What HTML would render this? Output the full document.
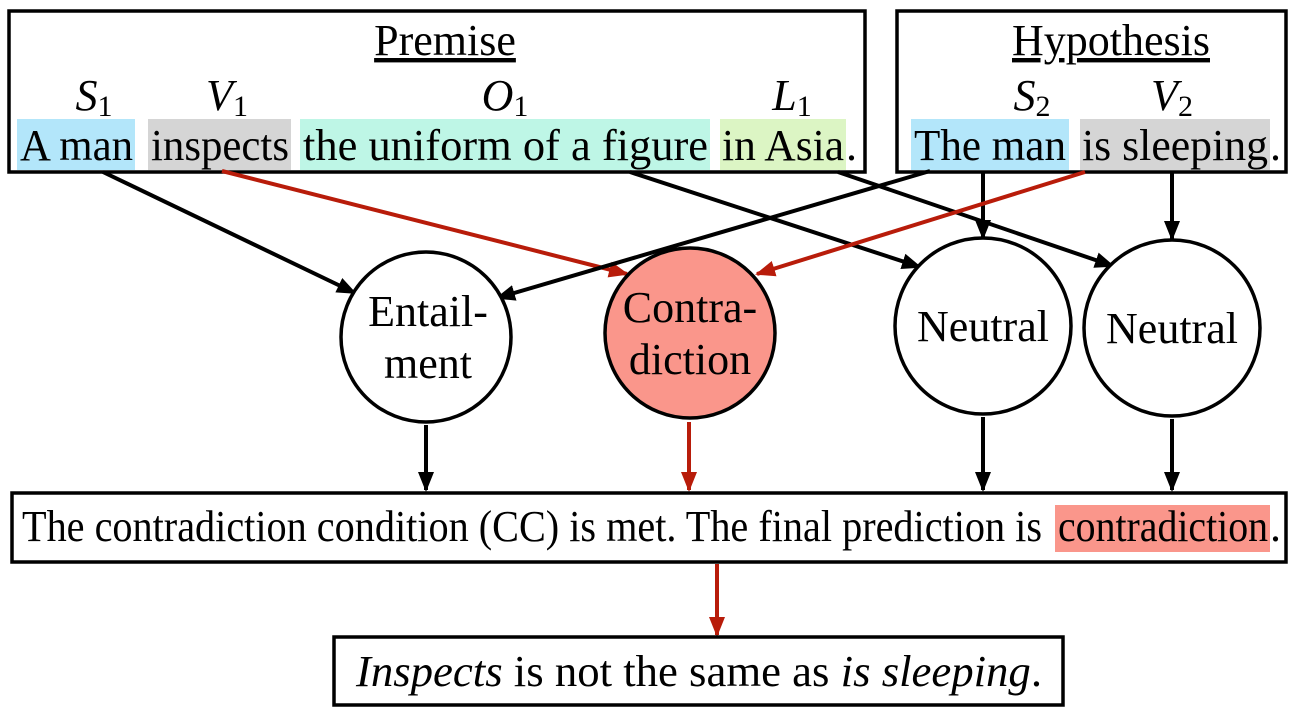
<!DOCTYPE html>
<html><head><meta charset="utf-8"><style>
body{margin:0;background:#fff}
svg{display:block;font-family:"Liberation Serif",serif}
</style></head><body>
<svg width="1296" height="712" viewBox="0 0 1296 712">
<defs>
<marker id="ab" markerWidth="20" markerHeight="20" refX="18" refY="10" orient="auto" markerUnits="userSpaceOnUse" viewBox="0 0 20 20"><path d="M0,2 L20,10 L0,18 z" fill="#000"/></marker>
<marker id="ar" markerWidth="20" markerHeight="20" refX="18" refY="10" orient="auto" markerUnits="userSpaceOnUse" viewBox="0 0 20 20"><path d="M0,2 L20,10 L0,18 z" fill="#b81c0a"/></marker>
</defs>
<style>
.b{stroke:#000;stroke-width:3.5;fill:none}
.ln{stroke:#000;stroke-width:4;marker-end:url(#ab);}
.lr{stroke:#b81c0a;stroke-width:4;marker-end:url(#ar);}
.t{font-size:44px}
.lab{font-size:44px;font-style:italic}
.sub{font-size:30px;font-style:normal}
</style>
<g>
<rect x="9" y="11" width="856" height="161" class="b"/>
<text x="445" y="55" text-anchor="middle" class="t" text-decoration="underline">Premise</text>
<text x="94" y="110" text-anchor="middle" class="lab">S<tspan class="sub" dy="6">1</tspan></text>
<text x="227" y="110" text-anchor="middle" class="lab">V<tspan class="sub" dy="6">1</tspan></text>
<text x="505" y="110" text-anchor="middle" class="lab">O<tspan class="sub" dy="6">1</tspan></text>
<text x="792" y="110" text-anchor="middle" class="lab">L<tspan class="sub" dy="6">1</tspan></text>
<rect x="17" y="119" width="118" height="51" fill="#b3e6fa"/>
<rect x="148" y="119" width="143" height="51" fill="#d5d5d5"/>
<rect x="300" y="119" width="410" height="51" fill="#bef6e6"/>
<rect x="720" y="119" width="126" height="51" fill="#dcf5c4"/>
<text y="160" class="t"><tspan x="20" textLength="113" lengthAdjust="spacingAndGlyphs">A man</tspan><tspan x="151" textLength="138" lengthAdjust="spacingAndGlyphs">inspects</tspan><tspan x="303" textLength="405" lengthAdjust="spacingAndGlyphs">the uniform of a figure</tspan><tspan x="722" textLength="122" lengthAdjust="spacingAndGlyphs">in Asia</tspan><tspan x="846">.</tspan></text>
</g>
<g>
<rect x="897" y="11" width="389" height="161" class="b"/>
<text x="1111" y="55" text-anchor="middle" class="t" text-decoration="underline">Hypothesis</text>
<text x="1032" y="110" text-anchor="middle" class="lab">S<tspan class="sub" dy="6">2</tspan></text>
<text x="1172" y="110" text-anchor="middle" class="lab">V<tspan class="sub" dy="6">2</tspan></text>
<rect x="911" y="119" width="158" height="51" fill="#b3e6fa"/>
<rect x="1080" y="119" width="190" height="51" fill="#d5d5d5"/>
<text y="160" class="t"><tspan x="914" textLength="152" lengthAdjust="spacingAndGlyphs">The man</tspan><tspan x="1082" textLength="186" lengthAdjust="spacingAndGlyphs">is sleeping</tspan><tspan x="1270">.</tspan></text>
</g>
<line x1="103" y1="172" x2="355" y2="293" class="ln"/>
<line x1="222" y1="171" x2="627" y2="274" class="lr"/>
<line x1="630" y1="172" x2="920" y2="267" class="ln"/>
<line x1="838" y1="172" x2="1113" y2="266" class="ln"/>
<line x1="930" y1="171" x2="497" y2="298" class="ln"/>
<line x1="983" y1="172" x2="983" y2="238" class="ln"/>
<line x1="1085" y1="172" x2="757" y2="274" class="lr"/>
<line x1="1172" y1="172" x2="1172" y2="239" class="ln"/>
<g>
<circle cx="426" cy="337" r="85" fill="#fff" stroke="#000" stroke-width="3.5"/>
<text x="428" y="326" text-anchor="middle" class="t">Entail-</text>
<text x="428" y="378" text-anchor="middle" class="t">ment</text>
</g>
<g>
<circle cx="690" cy="333" r="85" fill="#fa968b" stroke="#000" stroke-width="3.5"/>
<text x="690" y="322" text-anchor="middle" class="t">Contra-</text>
<text x="690" y="374" text-anchor="middle" class="t">diction</text>
</g>
<g>
<circle cx="983" cy="326" r="88" fill="#fff" stroke="#000" stroke-width="3.5"/>
<text x="983" y="341" text-anchor="middle" class="t">Neutral</text>
</g>
<g>
<circle cx="1172" cy="328" r="88" fill="#fff" stroke="#000" stroke-width="3.5"/>
<text x="1172" y="343" text-anchor="middle" class="t">Neutral</text>
</g>
<line x1="426" y1="425" x2="426" y2="490" class="ln"/>
<line x1="689" y1="422" x2="689" y2="490" class="lr"/>
<line x1="983" y1="417" x2="983" y2="490" class="ln"/>
<line x1="1172" y1="419" x2="1172" y2="490" class="ln"/>
<g>
<rect x="12" y="493" width="1274" height="69" class="b"/>
<rect x="1055" y="505" width="215" height="47" fill="#fa968b"/>
<text y="541" class="t"><tspan x="22" textLength="1020" lengthAdjust="spacingAndGlyphs">The contradiction condition (CC) is met. The final prediction is</tspan><tspan x="1058" textLength="210" lengthAdjust="spacingAndGlyphs">contradiction</tspan><tspan x="1270">.</tspan></text>
</g>
<line x1="717" y1="564" x2="717" y2="635" class="lr"/>
<g>
<rect x="334" y="637" width="729" height="68" class="b"/>
<text x="356" y="686" class="t" textLength="686" lengthAdjust="spacingAndGlyphs"><tspan font-style="italic">Inspects</tspan> is not the same as <tspan font-style="italic">is sleeping</tspan>.</text>
</g>
</svg>
</body></html>
